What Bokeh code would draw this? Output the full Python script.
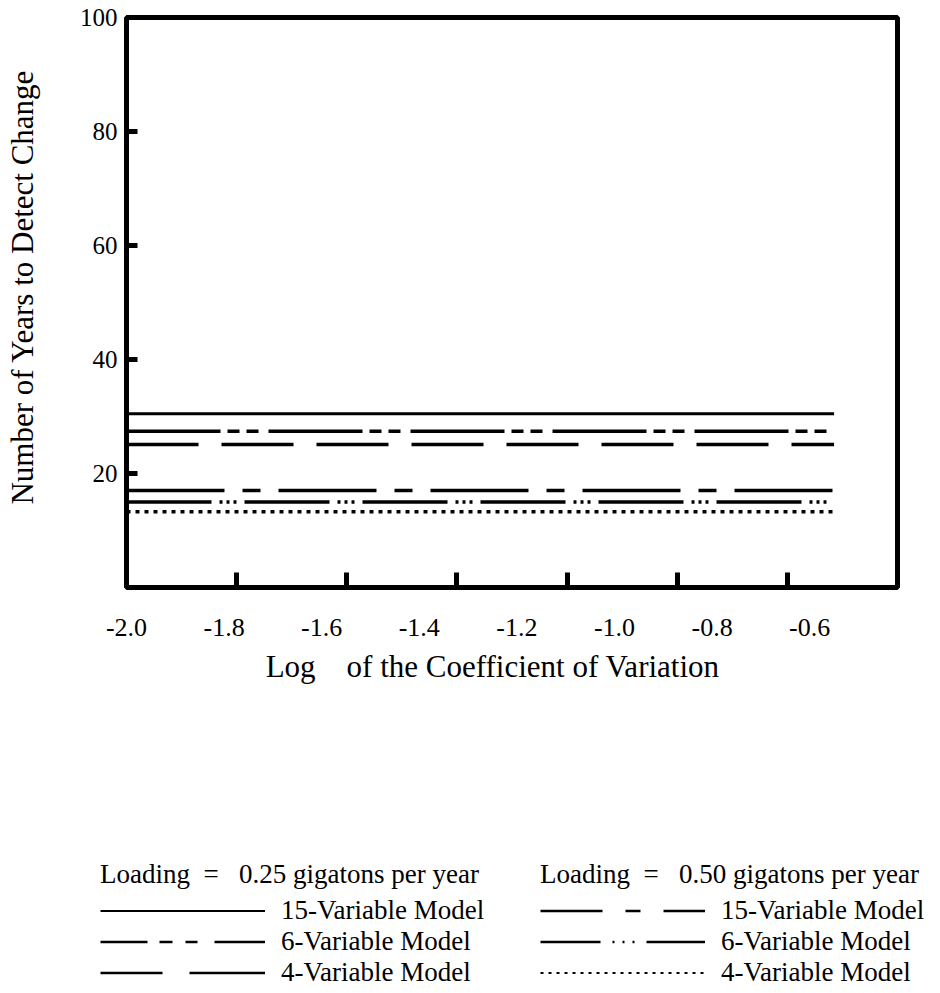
from bokeh.plotting import figure
from bokeh.layouts import column
from bokeh.models import (Range1d, LinearAxis, FixedTicker, PrintfTickFormatter,
                          CustomJSTickFormatter, Legend, LegendItem)
from bokeh.embed import file_html
from bokeh.resources import INLINE

# ---------------- data ----------------
log_cv = [-2.0, -0.55]
years_15var_025 = [30.5, 30.5]
years_6var_025 = [27.4, 27.4]
years_4var_025 = [25.1, 25.1]
years_15var_050 = [17.0, 17.0]
years_6var_050 = [15.0, 15.0]
years_4var_050 = [13.3, 13.3]

x_tick_labels = [-2.0, -1.8, -1.6, -1.4, -1.2, -1.0, -0.8, -0.6]
x_tick_marks = [-1.8, -1.6, -1.4, -1.2, -1.0, -0.8]
y_ticks = [20, 40, 60, 80, 100]

legend_titles = ["Loading\u00a0\u00a0=\u00a0\u00a0 0.25 gigatons per year",
                 "Loading\u00a0\u00a0=\u00a0\u00a0 0.50 gigatons per year"]
model_names = ["15-Variable Model", "6-Variable Model", "4-Variable Model"]

FONT = "Liberation Serif"

MAIN_H = 720
p = figure(width=940, height=MAIN_H, output_backend="svg", toolbar_location=None,
           x_range=Range1d(-2.0, -0.42), y_range=Range1d(0, 100),
           x_axis_location=None, y_axis_location=None, frame_align=False,
           min_border_left=126, min_border_right=43, min_border_top=17,
           min_border_bottom=MAIN_H - 587)
p.extra_x_ranges = {"marks": Range1d(-2.0, -0.6)}
p.background_fill_color = "white"
p.border_fill_color = "white"
p.outline_line_color = "black"
p.outline_line_width = 5
p.grid.visible = False

# y axis
yax = LinearAxis(ticker=FixedTicker(ticks=y_ticks), axis_line_color=None,
                 major_tick_in=11, major_tick_out=0, major_tick_line_width=5,
                 major_tick_line_color="black", minor_tick_line_color=None,
                 major_label_standoff=9, major_label_text_font=FONT,
                 major_label_text_font_size="25px", major_label_text_color="black",
                 axis_label="\u00a0\u00a0\u00a0\u00a0Number of Years to Detect Change",
                 axis_label_text_font=FONT, axis_label_text_font_size="31px",
                 axis_label_text_font_style="normal", axis_label_text_color="black",
                 axis_label_standoff=37)
p.add_layout(yax, "left")

# inward tick marks on the bottom edge
tax = LinearAxis(x_range_name="marks", ticker=FixedTicker(ticks=x_tick_marks),
                 axis_line_color=None, major_tick_in=15, major_tick_out=0,
                 major_tick_line_width=5, major_tick_line_color="black",
                 minor_tick_line_color=None,
                 formatter=CustomJSTickFormatter(code="return ''"),
                 major_label_standoff=0, major_label_text_font_size="1px")
p.add_layout(tax, "below")

# labelled bottom axis
lax = LinearAxis(ticker=FixedTicker(ticks=x_tick_labels),
                 formatter=PrintfTickFormatter(format="%.1f"),
                 axis_line_color=None, major_tick_line_color=None,
                 minor_tick_line_color=None, major_tick_in=0, major_tick_out=0,
                 major_label_standoff=31, major_label_text_font=FONT,
                 major_label_text_font_size="26px", major_label_text_color="black",
                 axis_label="Log\u00a0\u00a0\u00a0 of the Coefficient of Variation"
                            "\u00a0\u00a0\u00a0\u00a0\u00a0",
                 axis_label_text_font=FONT, axis_label_text_font_size="31px",
                 axis_label_text_font_style="normal", axis_label_text_color="black",
                 axis_label_standoff=10)
p.add_layout(lax, "below")

# ---------------- series ----------------
series = [
    (years_15var_025, 3, "solid", 2, "solid"),
    (years_6var_025, 3.5, "94 7 12 7 12 10", 2.5, "47 12 13 13 12 17 60 20"),
    (years_4var_025, 3.5, "72 23", 2.5, "62 27 80 20"),
    (years_15var_050, 3.5, "98 18 18 18", 2.5, "62 23 15 23 60 20"),
    (years_6var_050, 3.5, "85 8 3 4 3 4 3 8", 2.5, "60 12 2 8 2 8 2 12 60 20"),
    (years_4var_050, 3.5, "4 5", 2, "3 5"),
]

# legend panel (separate figure below the chart)
q = figure(width=940, height=993 - MAIN_H, output_backend="svg", toolbar_location=None,
           x_range=Range1d(0, 1), y_range=Range1d(0, 1),
           x_axis_location=None, y_axis_location=None, frame_align=False,
           min_border_left=0, min_border_right=0, min_border_top=0, min_border_bottom=0)
q.outline_line_color = None
q.background_fill_color = "white"
q.border_fill_color = "white"
q.grid.visible = False

proxies = []
for ys, lw, dash, lw_leg, dash_leg in series:
    p.line(log_cv, ys, line_color="black", line_width=lw, line_dash=dash)
    proxies.append(q.line(log_cv, ys, line_color="black", line_width=lw_leg,
                          line_dash=dash_leg, visible=False))


def make_legend(title, rends, loc):
    return Legend(items=[LegendItem(label=n, renderers=[r]) for n, r in zip(model_names, rends)],
                  title=title, location=loc, orientation="vertical",
                  glyph_width=165, glyph_height=31, label_height=31, label_standoff=16,
                  spacing=0, padding=0, margin=0, border_line_color=None,
                  background_fill_alpha=0, inactive_fill_alpha=0,
                  title_standoff=5, title_text_font=FONT, title_text_font_size="27px",
                  title_text_font_style="normal", title_text_color="black",
                  label_text_font=FONT, label_text_font_size="27px",
                  label_text_color="black")


q.add_layout(make_legend(legend_titles[0], proxies[:3], (100, 5)))
q.add_layout(make_legend(legend_titles[1], proxies[3:], (540, 5)))

layout = column(p, q, spacing=0)
open("out.html", "w").write(file_html(layout, INLINE))
